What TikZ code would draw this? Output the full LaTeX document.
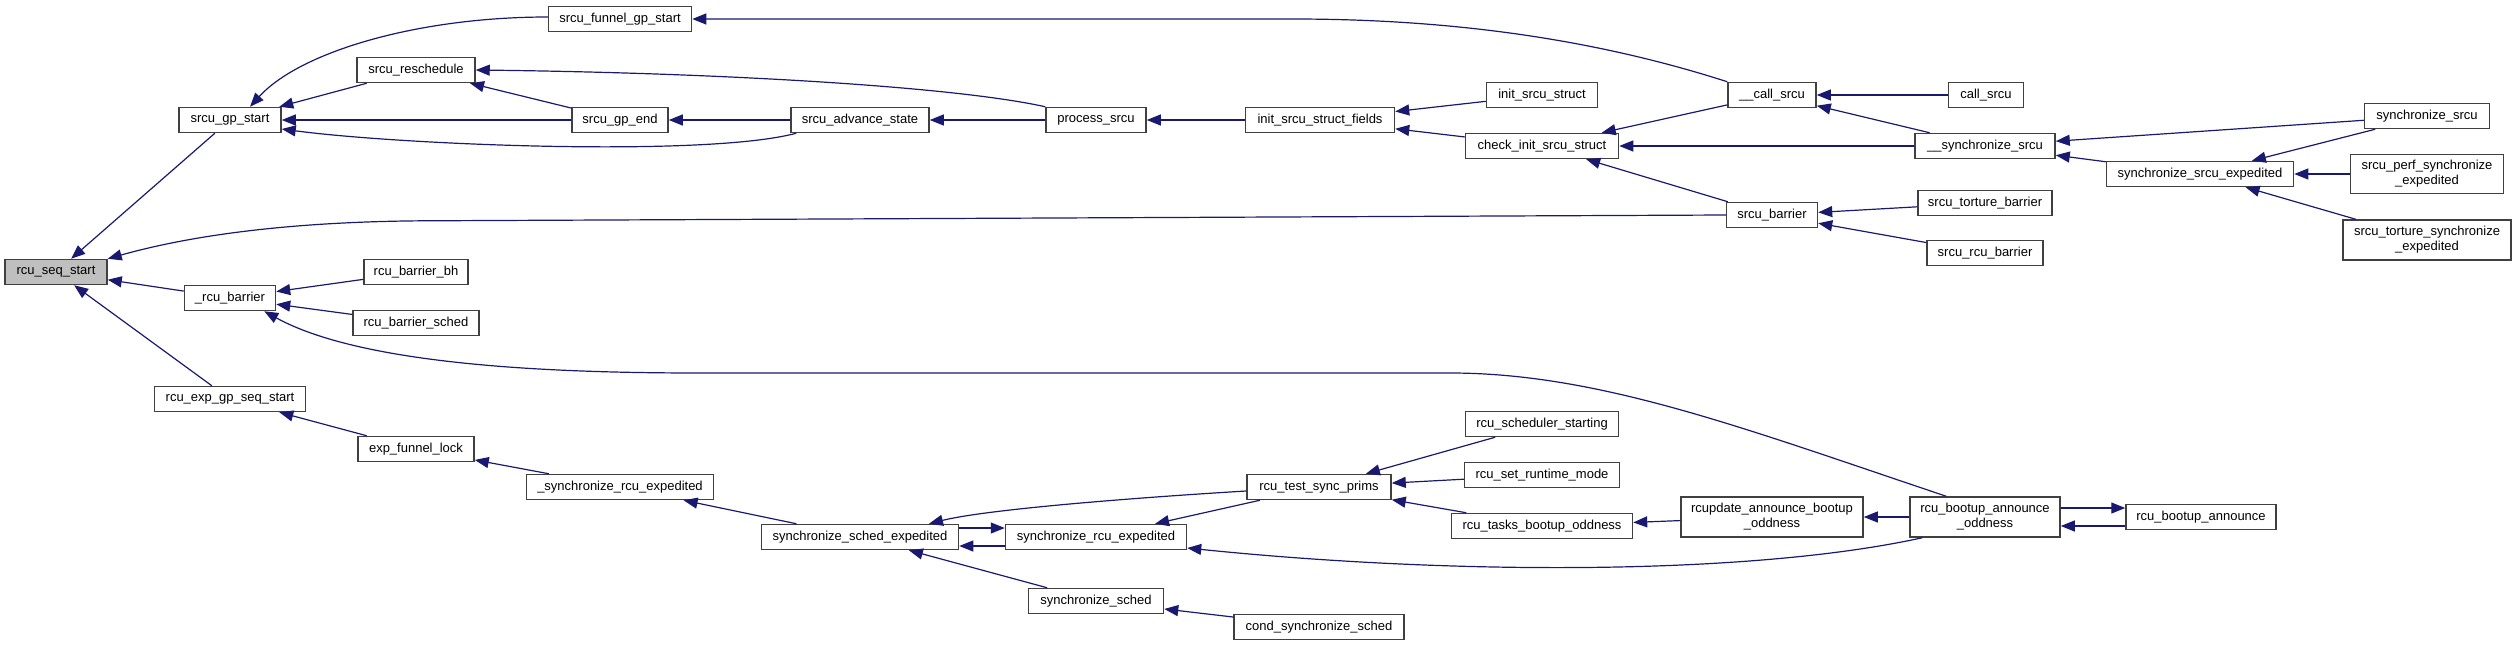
\documentclass[tikz,border=0pt]{standalone}
\usepackage{fontspec}
\setmainfont{Liberation Sans}
\usetikzlibrary{arrows.meta}
\definecolor{edgeblue}{HTML}{191970}

\begin{document}
\begin{tikzpicture}[x=1pt, y=-1pt,
  fn/.style={draw=black!75, line width=1.5pt, fill=white, inner sep=0pt, minimum height=25pt, align=center, font=\fontsize{13}{15}\selectfont},
  fnmain/.style={fn, fill=black!25},
  call/.style={draw=edgeblue, line width=1.2pt, {Triangle[length=14pt,width=11pt]}-}]
\useasboundingbox (0,0) rectangle (2516,645);
\node[fnmain, minimum width=102pt] (seqstart) at (56,272) {rcu\_seq\_start};
\node[fn, minimum width=102pt] (gpstart) at (230,120) {srcu\_gp\_start};
\node[fn, minimum width=91pt] (rcubarrier) at (230,298) {\_rcu\_barrier};
\node[fn, minimum width=151pt] (expseqstart) at (230,399) {rcu\_exp\_gp\_seq\_start};
\node[fn, minimum width=118pt] (resched) at (416,70) {srcu\_reschedule};
\node[fn, minimum width=104pt] (barrierbh) at (416,272) {rcu\_barrier\_bh};
\node[fn, minimum width=126pt] (barriersched) at (416,323) {rcu\_barrier\_sched};
\node[fn, minimum width=116pt] (funnellock) at (416,449) {exp\_funnel\_lock};
\node[fn, minimum width=143pt] (funnel) at (620,19) {srcu\_funnel\_gp\_start};
\node[fn, minimum width=96pt] (gpend) at (620,120) {srcu\_gp\_end};
\node[fn, minimum width=187pt] (syncrcuexpint) at (620,487) {\_synchronize\_rcu\_expedited};
\node[fn, minimum width=138pt] (advstate) at (860,120) {srcu\_advance\_state};
\node[fn, minimum width=197pt] (syncschedexp) at (860,537) {synchronize\_sched\_expedited};
\node[fn, minimum width=100pt] (process) at (1096,120) {process\_srcu};
\node[fn, minimum width=181pt] (syncrcuexp) at (1096,537) {synchronize\_rcu\_expedited};
\node[fn, minimum width=135pt] (syncsched) at (1096,601) {synchronize\_sched};
\node[fn, minimum width=149pt] (initfields) at (1320,120) {init\_srcu\_struct\_fields};
\node[fn, minimum width=144pt] (testsync) at (1319,487) {rcu\_test\_sync\_prims};
\node[fn, minimum width=170pt] (condsync) at (1319,627) {cond\_synchronize\_sched};
\node[fn, minimum width=111pt] (initstruct) at (1542,95) {init\_srcu\_struct};
\node[fn, minimum width=153pt] (checkinit) at (1542,146) {check\_init\_srcu\_struct};
\node[fn, minimum width=153pt] (schedstarting) at (1542,424) {rcu\_scheduler\_starting};
\node[fn, minimum width=155pt] (runtimemode) at (1542,475) {rcu\_set\_runtime\_mode};
\node[fn, minimum width=181pt] (tasksodd) at (1542,526) {rcu\_tasks\_bootup\_oddness};
\node[fn, minimum width=88pt] (callsrcuint) at (1772,95) {\_\_call\_srcu};
\node[fn, minimum width=91pt] (srcubarrier) at (1772,215) {srcu\_barrier};
\node[fn, minimum width=182pt, minimum height=40pt] (rcupdateodd) at (1772,517) {rcupdate\_announce\_bootup\\\_oddness};
\node[fn, minimum width=75pt] (callsrcu) at (1986,95) {call\_srcu};
\node[fn, minimum width=140pt] (syncsrcuint) at (1985,146) {\_\_synchronize\_srcu};
\node[fn, minimum width=134pt] (torturebarrier) at (1985,203) {srcu\_torture\_barrier};
\node[fn, minimum width=116pt] (srcurcubarrier) at (1985,253) {srcu\_rcu\_barrier};
\node[fn, minimum width=150pt, minimum height=40pt] (bootupodd) at (1985,517) {rcu\_bootup\_announce\\\_oddness};
\node[fn, minimum width=187pt] (syncsrcuexp) at (2200,174) {synchronize\_srcu\_expedited};
\node[fn, minimum width=150pt] (bootup) at (2201,517) {rcu\_bootup\_announce};
\node[fn, minimum width=125pt] (syncsrcu) at (2427,116) {synchronize\_srcu};
\node[fn, minimum width=153pt, minimum height=39pt] (perfsync) at (2427,174) {srcu\_perf\_synchronize\\\_expedited};
\node[fn, minimum width=168pt, minimum height=40pt] (torturesync) at (2427,240) {srcu\_torture\_synchronize\\\_expedited};
\draw[call] (seqstart) -- (gpstart);
\draw[call] ([xshift=20pt]gpstart.north) .. controls +(50,-55) and +(-130,0) .. ([yshift=2pt]funnel.west);
\draw[call] (gpstart) -- (resched);
\draw[call] (gpstart) -- (gpend);
\draw[call] ([yshift=-9pt]gpstart.east) .. controls +(120,16) and +(-90,24) .. ([xshift=6pt]advstate.south west);
\draw[call] (resched) -- (gpend);
\draw[call] (resched.east) .. controls +(250,3) and +(-90,-20) .. (process.north west);
\draw[call] (gpend) -- (advstate);
\draw[call] (advstate) -- (process);
\draw[call] (process) -- (initfields);
\draw[call] (initfields) -- (initstruct);
\draw[call] (initfields) -- (checkinit);
\draw[call] (funnel.east) -- ++(600,0) .. controls +(150,0) and +(-140,-45) .. (callsrcuint.north west);
\draw[call] (checkinit) -- (callsrcuint);
\draw[call] (checkinit) -- (syncsrcuint);
\draw[call] (checkinit) -- (srcubarrier);
\draw[call] (seqstart.north east) .. controls +(100,-28) and +(-120,0) .. ++(330,-38) -- (srcubarrier.west);
\draw[call] (callsrcuint) -- (callsrcu);
\draw[call] (callsrcuint) -- (syncsrcuint);
\draw[call] (syncsrcuint) -- (syncsrcu);
\draw[call] (syncsrcuint) -- (syncsrcuexp);
\draw[call] (syncsrcuexp) -- (syncsrcu);
\draw[call] (syncsrcuexp) -- (perfsync);
\draw[call] (syncsrcuexp) -- (torturesync);
\draw[call] (srcubarrier) -- (torturebarrier);
\draw[call] (srcubarrier) -- (srcurcubarrier);
\draw[call] (seqstart) -- (rcubarrier);
\draw[call] (rcubarrier) -- (barrierbh);
\draw[call] (rcubarrier) -- (barriersched);
\draw[call] ([xshift=-12pt]rcubarrier.south east) .. controls +(100,55) and +(-140,0) .. (700,373) -- (1450,373) .. controls +(150,0) and +(-200,-67) .. ([xshift=37pt]bootupodd.north west);
\draw[call] (seqstart) -- (expseqstart);
\draw[call] (expseqstart) -- (funnellock);
\draw[call] (funnellock) -- (syncrcuexpint);
\draw[call] (syncrcuexpint) -- (syncschedexp);
\draw[call] ([xshift=69pt]syncschedexp.north) .. controls +(60,-15) and +(-100,6) .. ([yshift=-4pt]testsync.west);
\draw[call] (syncrcuexp) -- (testsync);
\draw[call] ([yshift=9pt]syncrcuexp.west) -- ([yshift=9pt]syncschedexp.east);
\draw[call] ([yshift=-9pt]syncschedexp.east) -- ([yshift=-9pt]syncrcuexp.west);
\draw[call] (syncschedexp) -- (syncsched);
\draw[call] (syncsched) -- (condsync);
\draw[call] ([yshift=-11pt]syncrcuexp.east) .. controls +(263,27) and +(-173,38) .. ([xshift=13pt]bootupodd.south west);
\draw[call] (testsync) -- (schedstarting);
\draw[call] (testsync) -- (runtimemode);
\draw[call] (testsync) -- (tasksodd);
\draw[call] (tasksodd) -- (rcupdateodd);
\draw[call] (rcupdateodd) -- (bootupodd);
\draw[call] ([yshift=9pt]bootup.west) -- ([yshift=9pt]bootupodd.east);
\draw[call] ([yshift=-9pt]bootupodd.east) -- ([yshift=-9pt]bootup.west);
\end{tikzpicture}
\end{document}
